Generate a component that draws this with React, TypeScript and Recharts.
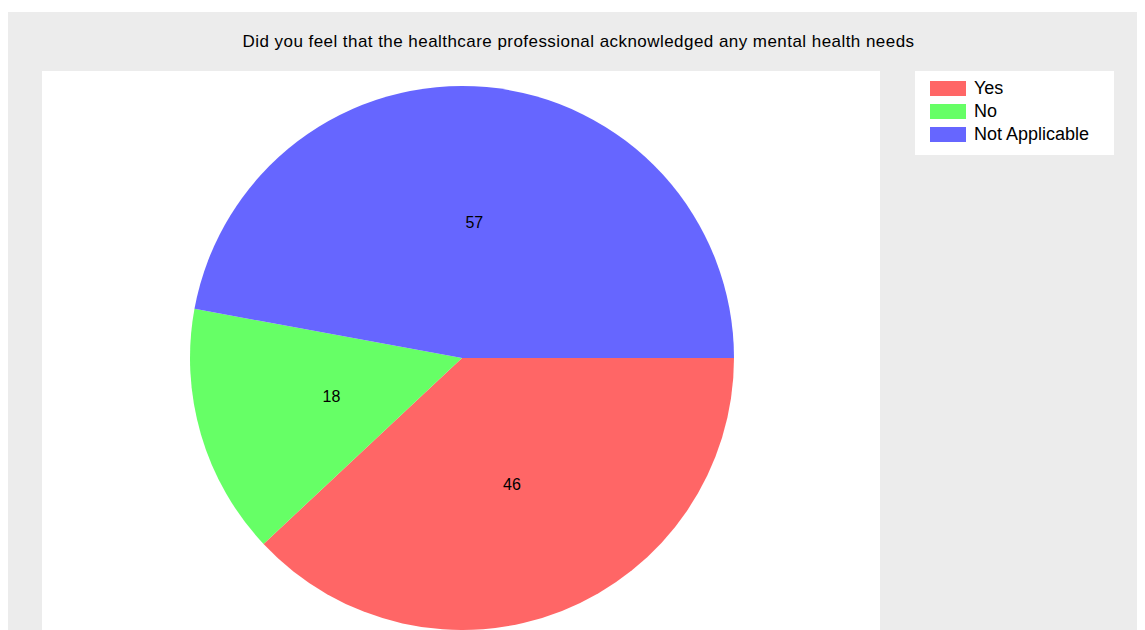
import { Cell, Legend, Pie, PieChart } from "recharts";

const categories = ["Yes", "No", "Not Applicable"];
const counts = [46, 18, 57];
const colors = ["#FF6666", "#66FF66", "#6666FF"];
const title = "Did you feel that the healthcare professional acknowledged any mental health needs";

const data = categories.map((name, i) => ({ name, value: counts[i] }));

const FONT = "'Liberation Sans', Arial, sans-serif";
const RAD = Math.PI / 180;

function renderLabel(props: any) {
  const { cx, cy, midAngle, outerRadius, value } = props;
  const r = outerRadius * 0.5;
  const x = cx + r * Math.cos(-midAngle * RAD);
  const y = cy + r * Math.sin(-midAngle * RAD);
  return (
    <text x={x} y={y} textAnchor="middle" dominantBaseline="central" fill="#000" fontSize={16} fontFamily={FONT}>
      {value}
    </text>
  );
}

// legend keeps the series order (recharts would sort it by name)
function renderLegend() {
  return (
    <div
      style={{
        width: 199,
        height: 84,
        background: "#fff",
        boxSizing: "border-box",
        paddingTop: 6,
        paddingLeft: 15,
        fontFamily: FONT,
        fontSize: 18,
        color: "#000",
      }}
    >
      {categories.map((name, i) => (
        <div key={name} style={{ display: "flex", alignItems: "center", height: 23 }}>
          <span style={{ width: 36, height: 15, background: colors[i], marginRight: 8, display: "inline-block" }} />
          <span>{name}</span>
        </div>
      ))}
    </div>
  );
}

export default function App() {
  return (
    <div style={{ marginTop: 4, position: "relative", width: 1137, height: 618, background: "#ececec", overflow: "hidden" }}>
      <div
        style={{
          position: "absolute",
          left: 2,
          top: 20,
          width: 1137,
          textAlign: "center",
          fontFamily: FONT,
          fontSize: 17,
          letterSpacing: 0.45,
          color: "#000",
          lineHeight: "20px",
        }}
      >
        {title}
      </div>
      <div style={{ position: "absolute", left: 34, top: 59, width: 838, height: 600, background: "#fff" }} />
      <div style={{ position: "absolute", left: 0, top: 0 }}>
        <PieChart width={1137} height={618} margin={{ top: 0, right: 0, bottom: 0, left: 0 }}>
          <Pie
            data={data}
            dataKey="value"
            nameKey="name"
            cx={454}
            cy={346}
            outerRadius={272}
            startAngle={0}
            endAngle={-360}
            stroke="none"
            label={renderLabel}
            labelLine={false}
            isAnimationActive={false}
          >
            {data.map((d, i) => (
              <Cell key={d.name} fill={colors[i]} />
            ))}
          </Pie>
          <Legend
            content={renderLegend}
            wrapperStyle={{ position: "absolute", left: 907, top: 59, width: 199, height: 84 }}
          />
        </PieChart>
      </div>
    </div>
  );
}
